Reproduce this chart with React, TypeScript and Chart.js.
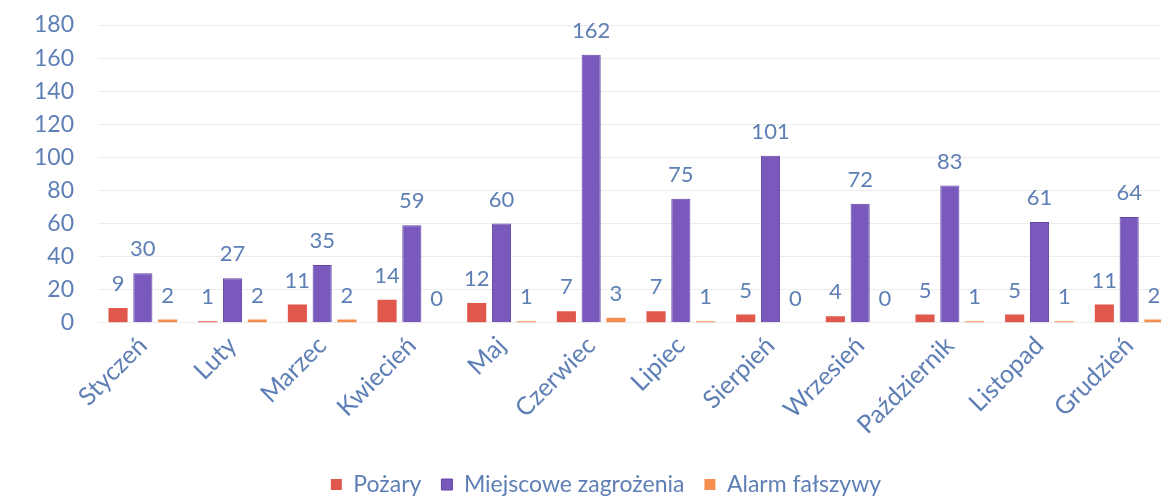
import React, { useEffect, useRef } from "react";
import { Chart, registerables } from "chart.js";

Chart.register(...registerables);

const months = ["Styczeń", "Luty", "Marzec", "Kwiecień", "Maj", "Czerwiec", "Lipiec", "Sierpień", "Wrzesień", "Październik", "Listopad", "Grudzień"];
const pozary = [9, 1, 11, 14, 12, 7, 7, 5, 4, 5, 5, 11];
const miejscowe = [30, 27, 35, 59, 60, 162, 75, 101, 72, 83, 61, 64];
const alarm = [2, 2, 2, 0, 1, 3, 1, 0, 0, 1, 1, 2];

const TEXT = "#5e7fb5";
const FONT = "Lato, 'Open Sans', sans-serif";

const valueLabels = {
  id: "valueLabels",
  afterDatasetsDraw(chart: any) {
    const ctx = chart.ctx;
    ctx.save();
    ctx.fillStyle = TEXT;
    ctx.font = `22px ${FONT}`;
    ctx.textAlign = "center";
    ctx.textBaseline = "middle";
    chart.data.datasets.forEach((ds: any, i: number) => {
      const meta = chart.getDatasetMeta(i);
      meta.data.forEach((bar: any, j: number) => {
        ctx.fillText(String(ds.data[j]), bar.x, bar.y - 24);
      });
    });
    ctx.restore();
  },
};

const legendShift = {
  id: "legendShift",
  afterLayout(chart: any) {
    const lg = chart.legend;
    if (!lg) return;
    const dx = 14;
    const dy = 13;
    lg.left += dx;
    lg.right += dx;
    lg.top += dy;
    lg.bottom += dy;
  },
};

export default function App() {
  const ref = useRef<HTMLCanvasElement>(null);
  useEffect(() => {
    if (!ref.current) return;
    const chart = new Chart(ref.current, {
      type: "bar",
      data: {
        labels: months,
        datasets: [
          { label: "Pożary", data: pozary, backgroundColor: "#e0574b" },
          { label: "Miejscowe zagrożenia", data: miejscowe, backgroundColor: "#7a59bd", borderColor: "#6647a6", borderWidth: 1 },
          { label: "Alarm fałszywy", data: alarm, backgroundColor: "#f38e4c" },
        ],
      },
      options: {
        animation: false,
        responsive: false,
        maintainAspectRatio: false,
        layout: { padding: { top: 25, left: 10, right: 0, bottom: 4 } },
        datasets: { bar: { barPercentage: 0.77, categoryPercentage: 0.83 } },
        plugins: {
          legend: {
            position: "bottom",
            labels: { color: TEXT, font: { size: 23, family: FONT }, boxWidth: 11, boxHeight: 11, padding: 20 },
          },
          tooltip: { enabled: false },
        },
        scales: {
          x: {
            grid: { display: false },
            border: { display: false },
            ticks: { color: TEXT, font: { size: 25, family: FONT }, minRotation: 45, maxRotation: 45, padding: 0 },
            afterFit: (scale: any) => {
              scale.paddingLeft = 0;
              scale.paddingRight = 0;
            },
          },
          y: {
            min: 0,
            max: 180,
            border: { display: false },
            grid: { color: "#ececec", lineWidth: 1, drawTicks: false },
            ticks: { stepSize: 20, autoSkip: false, color: TEXT, font: { size: 23, family: FONT }, padding: 24 },
            afterFit: (scale: any) => {
              scale.paddingTop = 0;
            },
          },
        },
      },
      plugins: [valueLabels, legendShift],
    });
    return () => chart.destroy();
  }, []);
  return (
    <div style={{ position: "fixed", left: 0, top: 0, width: 1161, height: 497, overflow: "hidden", background: "#fff" }}>
      <canvas ref={ref} width={1174} height={497} style={{ display: "block" }} />
    </div>
  );
}
